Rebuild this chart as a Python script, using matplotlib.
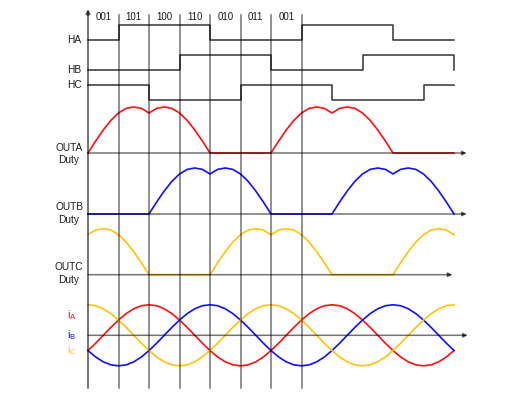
import numpy as np
import matplotlib
matplotlib.use("Agg")
import matplotlib.pyplot as plt

plt.rcParams['font.family'] = ['Liberation Sans', 'DejaVu Sans']

# electrical angle (deg), 15 deg steps over two periods
angle = list(range(0, 721, 15))

# hall sensor states per 60 deg sector (value at sector start), last = end point
hall_edges = list(range(0, 721, 60))
ha = [0, 1, 1, 1, 0, 0, 0, 1, 1, 1, 0, 0, 0]
hb = [0, 0, 0, 1, 1, 1, 0, 0, 0, 1, 1, 1, 0]
hc = [1, 1, 0, 0, 0, 1, 1, 1, 0, 0, 0, 1, 1]
sector_labels = ['001', '101', '100', '110', '010', '011', '001']

# normalized duty
outa = [0, .26, .5, .71, .87, .97, 1.0, .97, .87, .97, 1.0, .97, .87, .71, .5, .26,
        0, 0, 0, 0, 0, 0, 0, 0,
        0, .26, .5, .71, .87, .97, 1.0, .97, .87, .97, 1.0, .97, .87, .71, .5, .26,
        0, 0, 0, 0, 0, 0, 0, 0, 0]
outb = [0, 0, 0, 0, 0, 0, 0, 0, 0, .26, .5, .71, .87, .97, 1.0, .97, .87, .97, 1.0, .97, .87, .71, .5, .26,
        0, 0, 0, 0, 0, 0, 0, 0, 0, .26, .5, .71, .87, .97, 1.0, .97, .87, .97, 1.0, .97, .87, .71, .5, .26,
        0]
outc = [.87, .97, 1.0, .97, .87, .71, .5, .26, 0, 0, 0, 0, 0, 0, 0, 0,
        0, .26, .5, .71, .87, .97, 1.0, .97,
        .87, .97, 1.0, .97, .87, .71, .5, .26, 0, 0, 0, 0, 0, 0, 0, 0,
        0, .26, .5, .71, .87, .97, 1.0, .97, .87]

# phase currents (normalized)
ia = [-.5, -.26, 0, .26, .5, .71, .87, .97, 1, .97, .87, .71, .5, .26, 0, -.26,
      -.5, -.71, -.87, -.97, -1, -.97, -.87, -.71,
      -.5, -.26, 0, .26, .5, .71, .87, .97, 1, .97, .87, .71, .5, .26, 0, -.26,
      -.5, -.71, -.87, -.97, -1, -.97, -.87, -.71, -.5]
ib = [-.5, -.71, -.87, -.97, -1, -.97, -.87, -.71, -.5, -.26, 0, .26, .5, .71, .87, .97,
      1, .97, .87, .71, .5, .26, 0, -.26,
      -.5, -.71, -.87, -.97, -1, -.97, -.87, -.71, -.5, -.26, 0, .26, .5, .71, .87, .97,
      1, .97, .87, .71, .5, .26, 0, -.26, -.5]
ic = [1, .97, .87, .71, .5, .26, 0, -.26, -.5, -.71, -.87, -.97, -1, -.97, -.87, -.71,
      -.5, -.26, 0, .26, .5, .71, .87, .97,
      1, .97, .87, .71, .5, .26, 0, -.26, -.5, -.71, -.87, -.97, -1, -.97, -.87, -.71,
      -.5, -.26, 0, .26, .5, .71, .87, .97, 1]

red = '#ff1010'
blue = '#1010ff'
yellow = '#ffc20e'

k = 720 / 366.0  # deg per pixel
fig = plt.figure(figsize=(5.11, 3.95), dpi=100)
ax = fig.add_axes([0, 0, 1, 1])
ax.set_xlim(-88 * k, (511 - 88) * k)
ax.set_ylim(395, 0)
ax.axis('off')

x = np.array(angle)

# hall signals
for vals, low in [(ha, 40), (hb, 70), (hc, 100)]:
    ax.plot(hall_edges, low - 15 * np.array(vals), drawstyle='steps-post',
            color='#333333', lw=1.1, zorder=3)

# duty curves
ax.plot(x, 153 - 46 * np.array(outa), color=red, lw=1.2, zorder=2)
ax.plot(x, 214 - 46 * np.array(outb), color=blue, lw=1.2, zorder=2)
ax.plot(x, 274.7 - 46 * np.array(outc), color=yellow, lw=1.2, zorder=2)

# currents
ax.plot(x, 335.3 - 30.5 * np.array(ia), color=red, lw=1.2, zorder=2)
ax.plot(x, 335.3 - 30.5 * np.array(ib), color=blue, lw=1.2, zorder=2)
ax.plot(x, 335.3 - 30.5 * np.array(ic), color=yellow, lw=1.2, zorder=2)

# vertical sector lines
for e in hall_edges[1:8]:
    ax.plot([e, e], [15, 388], color='black', alpha=0.55, lw=1.1, zorder=4)

arrow = dict(arrowstyle='-|>', color='black', lw=1.1, alpha=0.55,
             mutation_scale=6, shrinkA=0, shrinkB=0)
ax.annotate('', xy=(0, 9), xytext=(0, 388), arrowprops=dict(arrow, lw=1.4), zorder=4)
for y0, xe in [(153, 745), (214, 745), (274.7, 717), (335.3, 747)]:
    ax.annotate('', xy=(xe, y0), xytext=(0, y0), arrowprops=arrow, zorder=4)

# sector labels
for i, s in enumerate(sector_labels):
    ax.text(30 + 60 * i, 17, s, ha='center', va='center', fontsize=7, color='#1a1a1a')

lx = (81.5 - 88) * k
for name, y0 in [('HA', 40), ('HB', 70), ('HC', 85)]:
    ax.text(lx, y0, name, ha='right', va='center', fontsize=7.3, color='#1a1a1a')

cx = (69 - 88) * k
for name, y0 in [('OUTA', 154), ('OUTB', 213.7), ('OUTC', 273.5)]:
    ax.text(cx, y0, name + '\nDuty', ha='center', va='center', fontsize=7.3,
            linespacing=1.3, color='#1a1a1a')

ix = (72 - 88) * k
for name, y0, c in [('A', 315, red), ('B', 335, blue), ('C', 350, yellow)]:
    ax.text(ix, y0, r'$\mathregular{i_' + name + '}$', ha='center', va='center',
            fontsize=8, color=c)

fig.savefig('out.png', dpi=100)
